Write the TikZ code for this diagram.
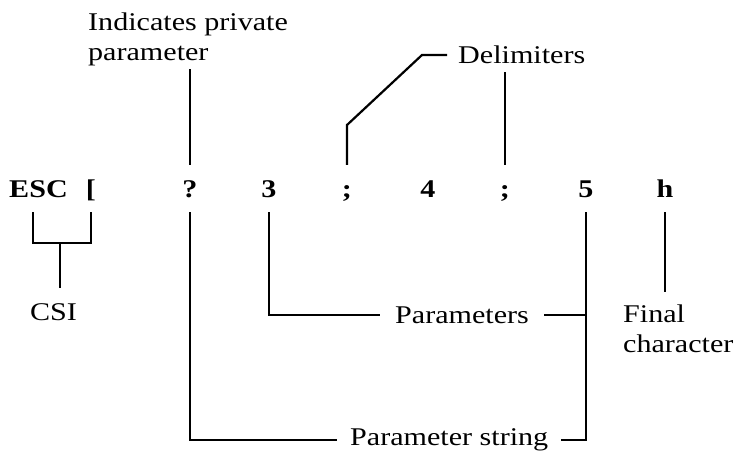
\documentclass[tikz,border=0pt]{standalone}
\usepackage{fontspec}
\setmainfont[FakeStretch=1.18]{Liberation Serif}
\begin{document}
\begin{tikzpicture}[x=1pt,y=-1pt,
  every node/.style={font=\fontsize{25.5}{30}\selectfont},
  rowch/.style={font=\fontsize{25.5}{30}\selectfont\bfseries, text height=17pt, text depth=0pt, inner xsep=0pt, inner ysep=15pt, anchor=base},
  lbl/.style={inner xsep=13pt, inner ysep=3pt},
  conn/.style={line width=2.2pt}]
\useasboundingbox[fill=white] (0,0) rectangle (742,452);
% row
\node[rowch] (esc) at (38.5,197) {ESC};
\node[rowch] (lb) at (91,197) {[};
\node[rowch] (q) at (190,197) {?};
\node[rowch] (n3) at (269,197) {3};
\node[rowch] (s1) at (347,197) {;};
\node[rowch] (n4) at (428,197) {4};
\node[rowch] (s2) at (505,197) {;};
\node[rowch] (n5) at (586,197) {5};
\node[rowch] (h) at (665,197) {h};
% labels
\node[align=left, inner xsep=0pt, inner ysep=3pt, anchor=south west] (ind) at (88,69.5) {Indicates private\\parameter};
\node[lbl, inner xsep=11pt, inner ysep=8pt, anchor=west] (dl) at (447,55) {Delimiters};
\node[inner xsep=0pt, inner ysep=15pt, anchor=north] (csi) at (53.5,288) {CSI};
\node[lbl, inner xsep=15pt, anchor=west] (params) at (380,315) {Parameters};
\node[lbl, anchor=west] (pstr) at (337,440) {Parameter string};
\node[align=left, inner xsep=0pt, inner ysep=13pt, anchor=north west] (fin) at (623,292) {Final\\character};
% coordinates
\coordinate (bl) at (33,243);
\coordinate (stem) at (60,243);
\coordinate (dbend) at (347,125);
\coordinate (dknee) at (422,55);
% connectors
\draw[conn] (q.north) -- (q.north |- ind.south);
\draw[conn] (s1.north) -- (dbend) -- (dknee) -- (dl.west);
\draw[conn] (s2.north) -- (s2.north |- dl.south);
\draw[conn] (esc.south -| bl) -- (bl) -- (bl -| lb.south) -- (lb.south);
\draw[conn] (stem) -- (stem |- csi.north);
\draw[conn] (n3.south) |- (params.west);
\draw[conn] (params.east) -- (params.east -| n5.south);
\draw[conn] (n5.south) |- (pstr.east);
\draw[conn] (q.south) |- (pstr.west);
\draw[conn] (h.south) -- (h.south |- fin.north);
\end{tikzpicture}
\end{document}
